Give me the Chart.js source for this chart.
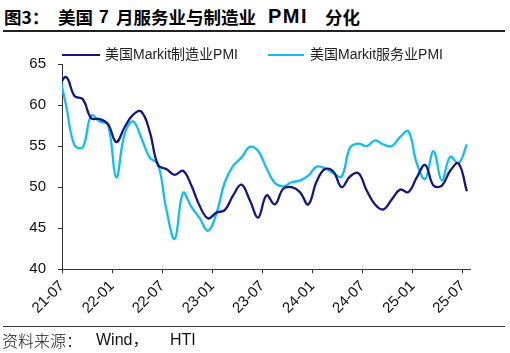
<!DOCTYPE html>
<html>
<head>
<meta charset="utf-8">
<script src="https://cdn.jsdelivr.net/npm/chart.js@4.4.0/dist/chart.umd.min.js"></script>
<style>
html,body{margin:0;padding:0;background:#fff;}
#wrap{position:relative;width:510px;height:353px;overflow:hidden;}
#c{position:absolute;left:0;top:0;}
.t{position:absolute;top:7px;font-family:"Noto Sans CJK SC","Liberation Sans",sans-serif;font-weight:700;font-size:17.5px;line-height:20px;color:#000;white-space:nowrap;}
.rule{position:absolute;left:3px;width:502px;height:1px;background:#333;}
.s{position:absolute;top:331px;font-family:"Liberation Sans","Noto Sans CJK SC",sans-serif;font-size:16px;line-height:18px;color:#111;white-space:nowrap;}
.s.cjk{font-family:"Noto Sans CJK SC",sans-serif;font-weight:300;}
</style>
</head>
<body>
<div id="wrap">
  <span class="t" style="left:4px">图3：</span>
  <span class="t" style="left:58px">美国</span>
  <span class="t" style="left:99px;font-family:'Liberation Sans'">7</span>
  <span class="t" style="left:116px">月服务业与制造业</span>
  <span class="t" style="left:268px;top:6px;font-family:'Liberation Sans';font-size:20px;letter-spacing:1.5px">PMI</span>
  <span class="t" style="left:325px">分化</span>
  <div class="rule" style="top:30px;height:1.5px;background:#222"></div>
  <canvas id="c" width="510" height="353"></canvas>
  <div class="rule" style="top:326px"></div>
  <span class="s cjk" style="left:2px">资料来源：</span>
  <span class="s" style="left:96px">Wind，</span>
  <span class="s" style="left:170px">HTI</span>
</div>
<script>
const months = ['2021-06','2021-07','2021-08','2021-09','2021-10','2021-11','2021-12',
  '2022-01','2022-02','2022-03','2022-04','2022-05','2022-06','2022-07','2022-08','2022-09','2022-10','2022-11','2022-12',
  '2023-01','2023-02','2023-03','2023-04','2023-05','2023-06','2023-07','2023-08','2023-09','2023-10','2023-11','2023-12',
  '2024-01','2024-02','2024-03','2024-04','2024-05','2024-06','2024-07','2024-08','2024-09','2024-10','2024-11','2024-12',
  '2025-01','2025-02','2025-03','2025-04','2025-05','2025-06','2025-07'];
const mfgPMI = [62.1,63.4,61.1,60.7,58.4,58.3,57.7,
  55.5,57.3,58.8,59.2,56.8,52.7,52.2,51.5,52.0,50.2,47.7,46.2,
  46.9,47.2,49.0,50.3,48.4,46.3,49.0,47.9,49.8,50.0,49.4,47.9,
  50.7,52.2,51.9,50.0,51.3,51.7,49.6,47.9,47.3,48.5,49.7,49.4,
  51.2,52.7,50.2,50.2,52.0,52.9,49.5];
const svcPMI = [64.6,59.9,55.1,54.9,58.7,58.0,57.6,
  51.2,56.5,58.0,56.0,53.6,52.8,47.3,43.7,49.3,47.6,46.2,44.7,
  46.8,50.6,52.6,53.6,54.9,54.4,52.3,50.5,50.1,50.6,50.8,51.4,
  52.5,52.3,51.7,51.3,54.8,55.3,55.0,55.7,55.2,55.0,56.1,56.8,
  52.9,51.0,54.4,50.8,53.7,52.9,55.2];
const seriesNames = ['美国Markit制造业PMI','美国Markit服务业PMI'];
const tickLabels = ['21-07','22-01','22-07','23-01','23-07','24-01','24-07','25-01','25-07'];
const yTicks = [40,45,50,55,60,65];

const FONT = '"Liberation Sans","Noto Sans CJK SC",sans-serif';
Chart.defaults.font.family = FONT;

const toPoints = arr => arr.map((v,i)=>({x:i, y:v}));

const manualLegend = {
  id:'manualLegend',
  afterDraw(chart){
    const c = chart.ctx;
    const pos = [{x0:62,x1:100,tx:105},{x0:268,x1:304,tx:310}];
    const y = 55;
    c.save();
    chart.data.datasets.forEach((ds,i)=>{
      const p = pos[i];
      c.strokeStyle = ds.borderColor;
      c.lineWidth = 2;
      c.beginPath(); c.moveTo(p.x0,y); c.lineTo(p.x1,y); c.stroke();
      c.fillStyle = '#222';
      c.font = '14px ' + FONT;
      c.textBaseline = 'middle';
      c.textAlign = 'left';
      c.fillText(ds.label, p.tx, y+0.5);
    });
    c.restore();
  }
};

new Chart(document.getElementById('c'), {
  type:'line',
  data:{datasets:[
    {label:seriesNames[0], data:toPoints(mfgPMI), borderColor:'#15177E', borderWidth:2.3, pointRadius:0, tension:0.4, fill:false},
    {label:seriesNames[1], data:toPoints(svcPMI), borderColor:'#12BEF0', borderWidth:2.3, pointRadius:0, tension:0.4, fill:false}
  ]},
  options:{
    responsive:false, animation:false,
    layout:{padding:{left:0,right:39.3,top:64,bottom:0}},
    plugins:{legend:{display:false}, tooltip:{enabled:false}},
    scales:{
      x:{type:'linear', min:0.5, max:49.46,
        afterBuildTicks:s=>{ s.ticks = tickLabels.map((_,k)=>({value:0.5+6*k})); },
        afterFit:s=>{ s.height = 83.7; },
        grid:{display:true, drawOnChartArea:false, drawTicks:true, tickLength:4, color:'#333', lineWidth:1},
        border:{display:true, color:'#333', width:1},
        ticks:{autoSkip:false, minRotation:45, maxRotation:45, padding:4, color:'#111', font:{size:15},
          callback:v=>tickLabels[Math.round((v-0.5)/6)]}
      },
      y:{min:40, max:65,
        afterBuildTicks:s=>{ s.ticks = yTicks.map(v=>({value:v})); },
        afterFit:s=>{ s.width = 62; },
        grid:{display:true, drawOnChartArea:false, drawTicks:true, tickLength:4, color:'#333', lineWidth:1},
        border:{display:true, color:'#333', width:1},
        ticks:{padding:12, color:'#111', font:{size:15}}
      }
    }
  },
  plugins:[manualLegend]
});
</script>
</body>
</html>
